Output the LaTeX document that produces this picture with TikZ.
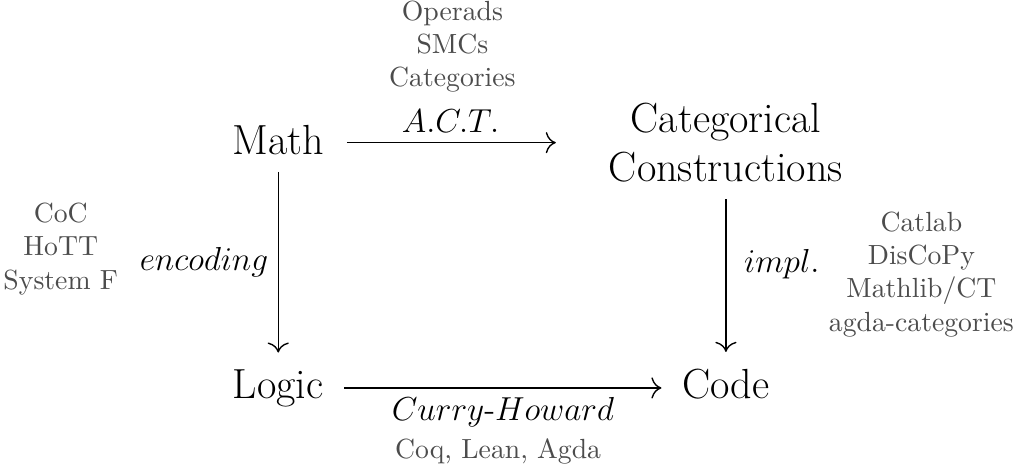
\documentclass[tikz,border=0pt]{standalone}
\usepackage{xcolor}
\usepackage{amsmath}
\usepackage{tikz}
\usetikzlibrary{arrows.meta}

\begin{document}
\begin{tikzpicture}[
  big/.style={font=\fontsize{15.2}{18}\selectfont, align=center},
  lbl/.style={font=\large},
  tools/.style={text=black!70, align=center},
  arr/.style={-{To[scale=1.35]}, line width=0.5pt, shorten <=4pt, shorten >=4pt},
  varr/.style={-{To[scale=1.35]}, line width=0.5pt, shorten <=2.5pt, shorten >=2.5pt}]
\useasboundingbox (0,0) rectangle (12.89,5.95);
\node[big] (math) at (3.53,4.17) {Math};
\node[big] (cat) at (9.21,4.14) {Categorical\\Constructions};
\node[big, anchor=base] (logic) at (3.53,0.90) {Logic};
\node[big, anchor=base] (code) at (9.21,0.90) {Code};
%\draw (math) -- (cat);
\draw[arr, shorten <=4.7pt, shorten >=0.55cm] (math.east |- cat.west) -- (cat.west)
  node[lbl, pos=0.44, above] (act) {$A.C.T.$};
\draw[varr] (math) -- (logic) node[lbl, midway, left] (enc) {$encoding$};
\draw[varr] (cat) -- (code) node[lbl, pos=0.43, right, xshift=3pt] (impl) {$impl.$};
\draw[arr] (logic.east) -- (logic.east -| code.west)
  node[lbl, midway, below] (ch) {$Curry\text{-}Howard$};
\node[tools] (actex) at (5.74,5.36) {Operads\\SMCs\\Categories};
\node[tools] (encex) at (0.77,2.79) {CoC\\HoTT\\System F};
\node[tools] (implex) at (11.69,2.47) {Catlab\\DisCoPy\\Mathlib/CT\\agda-categories};
\node[tools] (chex) at (6.32,0.22) {Coq, Lean, Agda};
\end{tikzpicture}
\end{document}
